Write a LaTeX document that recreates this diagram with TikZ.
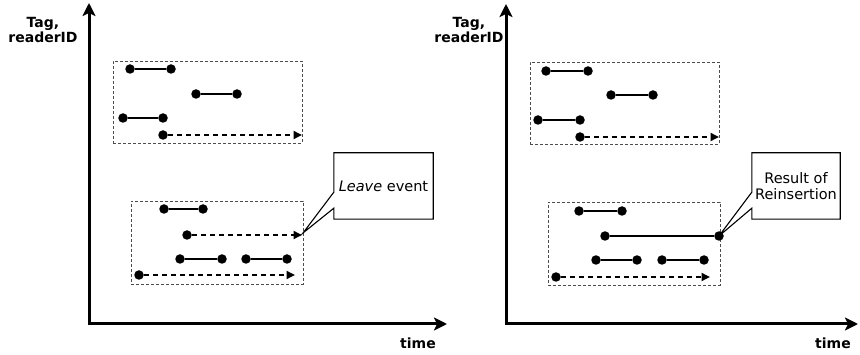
\documentclass[tikz,border=0pt]{standalone}
\usepackage{fontspec}
\setmainfont{DejaVu Sans}
\usetikzlibrary{arrows.meta,calc}
\begin{document}
\begin{tikzpicture}[x=1pt,y=-1pt,
  dot/.style={circle,fill=black,inner sep=0pt,minimum size=9.5pt},
  seg/.style={line width=1.4pt},
  openend/.style={line width=1.8pt,dash pattern=on 5.5pt off 3.5pt,-{Triangle[length=8.5pt,width=8pt]}},
  group/.style={draw=black!70,line width=0.8pt,dash pattern=on 3pt off 2pt,inner sep=0pt},
  axis/.style={line width=3pt,line join=miter,
    {Stealth[length=13pt,width=13pt,inset=3pt]}-{Stealth[length=13pt,width=13pt,inset=3pt]}},
  axislabel/.style={font=\bfseries\fontsize{14}{15.5}\selectfont,align=center,inner sep=0pt},
  note/.style={font=\fontsize{14.5}{15.5}\selectfont,align=center,inner sep=0pt},
  noteline/.style={draw=black,line width=1.1pt,line join=miter}
]
\useasboundingbox (0,0) rectangle (860,355);

% ---------------- left panel: Leave event ----------------
\coordinate (Lorg) at (89,324);
\coordinate (Ltop) at (89,3);
\coordinate (Lright) at (447,324);
\draw[axis] (Ltop) -- (Lorg) -- (Lright);
\node[axislabel] (LyLab) at (43,30) {Tag,\\readerID};
\node[axislabel] (LxLab) at (418,343) {time};

\node[group,minimum width=189pt,minimum height=82pt] (Lgrp1) at (207.5,102) {};
\node[dot] (La1) at (130,69) {};
\node[dot] (La2) at (171,69) {};
\node[dot] (Lb1) at (196,94) {};
\node[dot] (Lb2) at (237,94) {};
\node[dot] (Lc1) at (123,118) {};
\node[dot] (Lc2) at (163,118) {};
\node[dot] (Ld1) at (163,135) {};
\coordinate (Ld2) at (302,135);
\draw[seg] (La1) -- (La2);
\draw[seg] (Lb1) -- (Lb2);
\draw[seg] (Lc1) -- (Lc2);
\draw[openend] (Ld1) -- (Ld2);

\node[group,minimum width=172pt,minimum height=83pt] (Lgrp2) at (217,242.5) {};
\node[dot] (Le1) at (164,209) {};
\node[dot] (Le2) at (203,209) {};
\node[dot] (Lf1) at (187,235) {};
\coordinate (Lf2) at (302,235);
\node[dot] (Lg1) at (180,259) {};
\node[dot] (Lg2) at (222,259) {};
\node[dot] (Lh1) at (246,259) {};
\node[dot] (Lh2) at (287,259) {};
\node[dot] (Li1) at (139,275) {};
\coordinate (Li2) at (295,275);
\draw[seg] (Le1) -- (Le2);
\draw[openend] (Lf1) -- (Lf2);
\draw[seg] (Lg1) -- (Lg2);
\draw[seg] (Lh1) -- (Lh2);
\draw[openend] (Li1) -- (Li2);

\node[note,minimum width=99pt,minimum height=66pt] (Lnote) at (383.5,186) {\textit{Leave} event};
\coordinate (Ltip) at (303,233);
\draw[noteline] (Lnote.north west) -- (Lnote.north east) -- (Lnote.south east)
  -- (Lnote.south west) -- ($(Lnote.south west)+(0,-11)$) -- (Ltip)
  -- ($(Lnote.south west)+(0,-27)$) -- cycle;

% ---------------- right panel: Result of Reinsertion ----------------
\coordinate (Rorg) at (506,324);
\coordinate (Rtop) at (506,4);
\coordinate (Rright) at (858,324);
\draw[axis] (Rtop) -- (Rorg) -- (Rright);
\node[axislabel] (RyLab) at (469,30) {Tag,\\readerID};
\node[axislabel] (RxLab) at (833,343) {time};

\node[group,minimum width=189pt,minimum height=82pt] (Rgrp1) at (624.5,103) {};
\node[dot] (Ra1) at (546,71) {};
\node[dot] (Ra2) at (588,71) {};
\node[dot] (Rb1) at (611,95) {};
\node[dot] (Rb2) at (653,95) {};
\node[dot] (Rc1) at (538,120) {};
\node[dot] (Rc2) at (580,120) {};
\node[dot] (Rd1) at (580,137) {};
\coordinate (Rd2) at (719,137);
\draw[seg] (Ra1) -- (Ra2);
\draw[seg] (Rb1) -- (Rb2);
\draw[seg] (Rc1) -- (Rc2);
\draw[openend] (Rd1) -- (Rd2);

\node[group,minimum width=172pt,minimum height=83pt] (Rgrp2) at (634,243.5) {};
\node[dot] (Re1) at (579,211) {};
\node[dot] (Re2) at (622,211) {};
\node[dot] (Rf1) at (605,236) {};
\node[dot] (Rf2) at (719,236) {};
\node[dot] (Rg1) at (596,260) {};
\node[dot] (Rg2) at (637,260) {};
\node[dot] (Rh1) at (662,260) {};
\node[dot] (Rh2) at (704,260) {};
\node[dot] (Ri1) at (556,277) {};
\coordinate (Ri2) at (710,277);
\draw[seg] (Re1) -- (Re2);
\draw[seg,line width=1.1pt] (Rf1) -- (Rf2);
\draw[seg] (Rg1) -- (Rg2);
\draw[seg] (Rh1) -- (Rh2);
\draw[openend] (Ri1) -- (Ri2);

\node[note,minimum width=88pt,minimum height=66pt] (Rnote) at (796,186) {Result of\\Reinsertion};
\draw[noteline] (Rnote.north west) -- (Rnote.north east) -- (Rnote.south east)
  -- (Rnote.south west) -- ($(Rnote.south west)+(0,-11)$) -- (Rf2.center)
  -- ($(Rnote.south west)+(0,-27)$) -- cycle;
\end{tikzpicture}
\end{document}
